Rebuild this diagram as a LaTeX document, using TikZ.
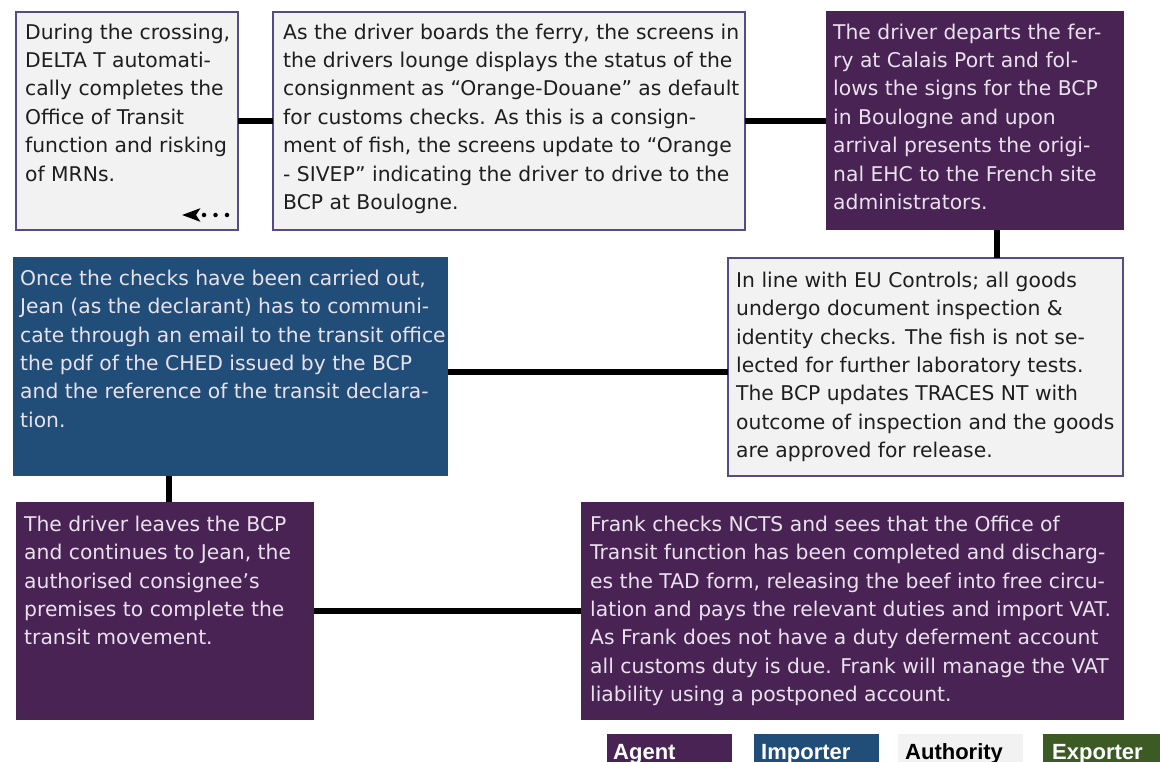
\documentclass[tikz,border=0pt]{standalone}
\usepackage{fontspec}
\setmainfont{DejaVu Sans}
\newfontfamily\keyfont{Liberation Sans}
\usetikzlibrary{arrows.meta}

\definecolor{agentpurple}{HTML}{4A2355}
\definecolor{importerblue}{HTML}{204E78}
\definecolor{authoritygrey}{HTML}{F2F2F2}
\definecolor{exportergreen}{HTML}{3C5B24}
\definecolor{cardedge}{HTML}{574A8A}
\definecolor{lighttext}{HTML}{E9E1EC}
\definecolor{darktext}{HTML}{1E1E1E}

% fixed-height strut so each text block's top sits 17pt above its first baseline
\newcommand\topstrut{\rule{0pt}{17pt}}

\begin{document}
\begin{tikzpicture}[x=1pt,y=-1pt,
  card/.style={rectangle, anchor=north west, inner sep=0pt, outer sep=0pt},
  authority/.style={card, fill=authoritygrey, draw=cardedge, line width=1.2pt},
  agent/.style={card, fill=agentpurple},
  importer/.style={card, fill=importerblue},
  exporter/.style={card, fill=exportergreen},
  keygrey/.style={card, fill=authoritygrey},
  body/.style={anchor=north west, inner sep=0pt, align=left,
               font=\fontsize{20.3}{28.4}\selectfont},
  link/.style={line width=6pt, black},
  keytext/.style={anchor=base west, inner sep=0pt,
                  font=\keyfont\bfseries\fontsize{22}{26}\selectfont}
]
\useasboundingbox (0,0) rectangle (1160,762);

% ---- process cards ----
\node[authority, minimum width=222pt, minimum height=218pt] (b1) at (16,12) {};
\node[authority, minimum width=472pt, minimum height=218pt] (b2) at (273,12) {};
\node[agent,     minimum width=298pt, minimum height=219pt] (b3) at (826,11) {};
\node[authority, minimum width=395pt, minimum height=218pt] (b4) at (728,258) {};
\node[importer,  minimum width=435pt, minimum height=219pt] (b5) at (13,257) {};
\node[agent,     minimum width=298pt, minimum height=218pt] (b6) at (16,502) {};
\node[agent,     minimum width=543pt, minimum height=218pt] (b7) at (581,502) {};

% ---- connectors ----
\draw[link] (b1) -- (b2);
\draw[link] (b2.east) -- (b2.east -| b3.west);
\draw[link] ([xshift=22pt]b3.south) -- ([xshift=22pt]b3.south |- b4.north);
\draw[link] ([yshift=-5pt]b5.east) -- ([yshift=-5pt]b5.east -| b4.west);
\draw[link] ([xshift=4pt]b6.north) -- ([xshift=4pt]b6.north |- b5.south);
\draw[link] (b6.east) -- (b6.east -| b7.west);

% dotted return arrow inside the first card
\coordinate (loopstart) at (227,215);
\coordinate (loopend) at (182,215);
\draw[line width=4.5pt, line cap=round, dash pattern=on 0pt off 11.5pt,
      -{Stealth[length=18pt,width=13pt,inset=4pt]}] (loopstart) -- (loopend);

% ---- card texts ----
\node[body, text=darktext] (t1) at (25,22) {\topstrut During the crossing,\\
DELTA T automati-\\
cally completes the\\
Office of Transit\\
function and risking\\
of MRNs.};

\node[body, text=darktext] (t2) at (283,22) {\topstrut As the driver boards the ferry, the screens in\\
the drivers lounge displays the status of the\\
consignment as “Orange-Douane” as default\\
for customs checks. As this is a consign-\\
ment of fish, the screens update to “Orange\\
- SIVEP” indicating the driver to drive to the\\
BCP at Boulogne.};

\node[body, text=lighttext] (t3) at (833,22) {\topstrut The driver departs the fer-\\
ry at Calais Port and fol-\\
lows the signs for the BCP\\
in Boulogne and upon\\
arrival presents the origi-\\
nal EHC to the French site\\
administrators.};

\node[body, text=darktext] (t4) at (736,270) {\topstrut In line with EU Controls; all goods\\
undergo document inspection \&\\
identity checks. The fish is not se-\\
lected for further laboratory tests.\\
The BCP updates TRACES NT with\\
outcome of inspection and the goods\\
are approved for release.};

\node[body, text=lighttext] (t5) at (20,268) {\topstrut Once the checks have been carried out,\\
Jean (as the declarant) has to communi-\\
cate through an email to the transit office\\
the pdf of the CHED issued by the BCP\\
and the reference of the transit declara-\\
tion.};

\node[body, text=lighttext] (t6) at (24,514) {\topstrut The driver leaves the BCP\\
and continues to Jean, the\\
authorised consignee’s\\
premises to complete the\\
transit movement.};

\node[body, text=lighttext] (t7) at (590,514) {\topstrut Frank checks NCTS and sees that the Office of\\
Transit function has been completed and discharg-\\
es the TAD form, releasing the beef into free circu-\\
lation and pays the relevant duties and import VAT.\\
As Frank does not have a duty deferment account\\
all customs duty is due. Frank will manage the VAT\\
liability using a postponed account.};

% ---- legend ----
\node[agent,    minimum width=125pt, minimum height=40pt] (kagent) at (607,734) {};
\node[importer, minimum width=125pt, minimum height=40pt] (kimporter) at (754,734) {};
\node[keygrey,  minimum width=125pt, minimum height=40pt] (kauthority) at (898,734) {};
\node[exporter, minimum width=130pt, minimum height=40pt] (kexporter) at (1043,734) {};
\node[keytext, text=white] (lagent) at (613,759) {Agent};
\node[keytext, text=white] (limporter) at (761,759) {Importer};
\node[keytext, text=black] (lauthority) at (905,759) {Authority};
\node[keytext, text=white] (lexporter) at (1052,759) {Exporter};
\end{tikzpicture}
\end{document}
